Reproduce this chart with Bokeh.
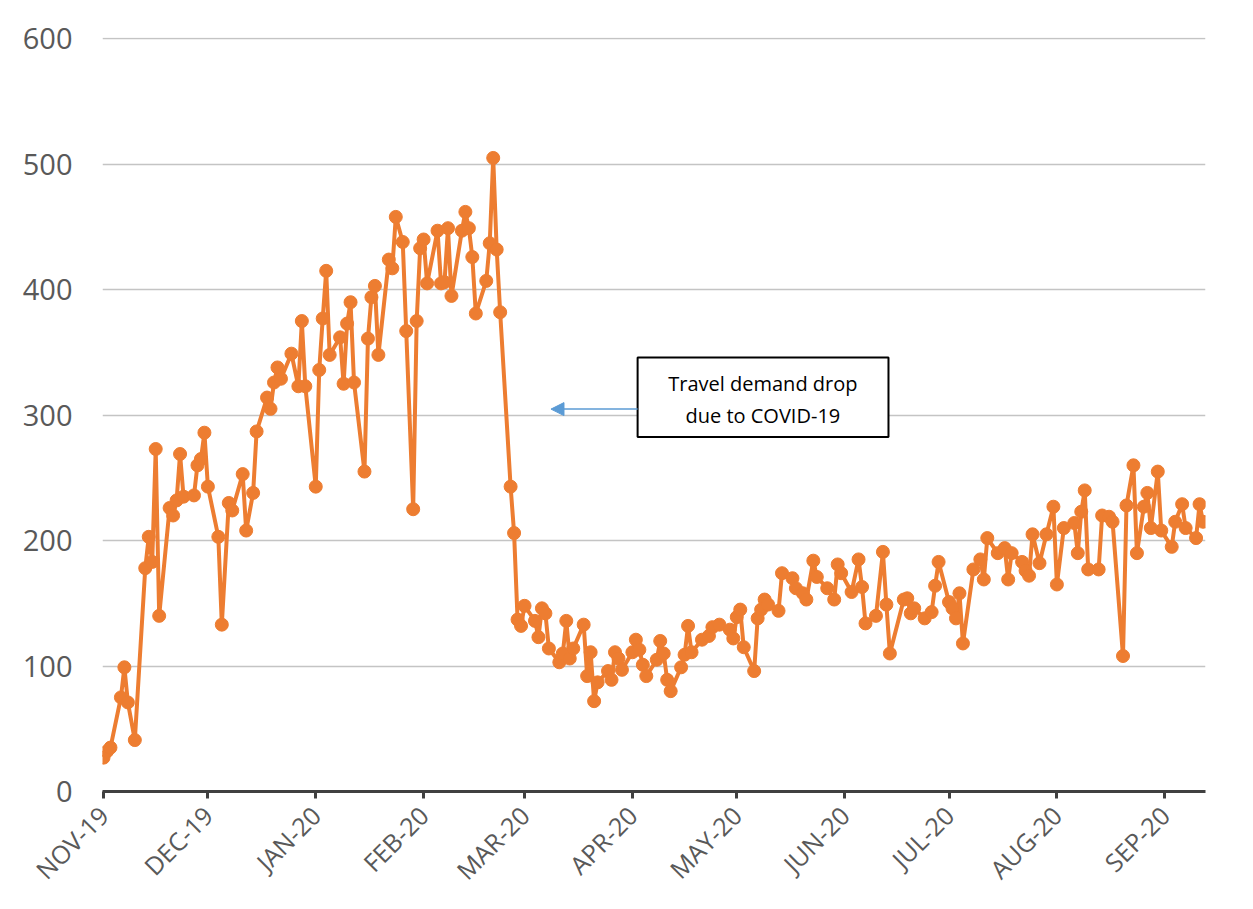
import pandas as pd
from math import pi
from bokeh.plotting import figure
from bokeh.models import (ColumnDataSource, FixedTicker, Range1d, BoxAnnotation,
                          Label, Arrow, NormalHead)
from bokeh.embed import file_html
from bokeh.resources import INLINE

start_date = "2019-11-01"

day_offsets = [
    0, 1, 2, 5, 6, 7, 9, 12, 13, 14, 15, 16, 19, 20, 21, 22, 23, 26, 27, 28, 29,
    30, 33, 34, 36, 37, 40, 41, 43, 44, 47, 48, 49, 50, 51, 54, 56, 57, 58,
    61, 62, 63, 64, 65, 68, 69, 70, 71, 72, 75, 76, 77, 78, 79, 82, 83, 84, 86, 87, 89, 90, 91,
    92, 93, 96, 97, 98, 99, 100, 103, 104, 105, 106, 107, 110, 111, 112, 113, 114, 117, 118, 119, 120,
    121, 124, 125, 126, 127, 128, 131, 132, 133, 134, 135, 138, 139, 140, 141, 142, 145, 146, 147, 148, 149,
    152, 153, 154, 155, 156, 159, 160, 161, 162, 163, 166, 167, 168, 169, 172, 174, 175, 177, 180, 181,
    182, 183, 184, 187, 188, 189, 190, 191, 194, 195, 198, 199, 201, 202, 204, 205, 208, 210, 211, 212,
    215, 217, 218, 219, 222, 224, 225, 226, 230, 231, 232, 233, 236, 238, 239, 240,
    243, 244, 245, 246, 247, 250, 252, 253, 254, 257, 259, 260, 261, 264, 265, 266, 267, 269, 271, 273,
    274, 276, 279, 280, 281, 282, 283, 286, 287, 289, 290, 293, 294, 296, 297, 299, 300, 301, 303, 304,
    307, 308, 310, 311, 314, 315, 316,
]

values = [
    27, 32, 35, 75, 99, 71, 41, 178, 203, 183, 273, 140, 226, 220, 232, 269, 235, 236, 260, 265, 286,
    243, 203, 133, 230, 224, 253, 208, 238, 287, 314, 305, 326, 338, 329, 349, 323, 375, 323,
    243, 336, 377, 415, 348, 362, 325, 373, 390, 326, 255, 361, 394, 403, 348, 424, 417, 458, 438, 367, 225, 375, 433,
    440, 405, 447, 405, 406, 449, 395, 447, 462, 449, 426, 381, 407, 437, 505, 432, 382, 243, 206, 137, 132,
    148, 136, 123, 146, 142, 114, 103, 110, 136, 106, 114, 133, 92, 111, 72, 87, 96, 89, 111, 106, 97,
    111, 121, 113, 101, 92, 105, 120, 110, 89, 80, 99, 109, 132, 111, 121, 124, 131, 133, 129, 122,
    139, 145, 115, 96, 138, 145, 153, 149, 144, 174, 170, 162, 158, 153, 184, 171, 162, 153, 181, 174,
    159, 185, 163, 134, 140, 191, 149, 110, 153, 154, 142, 146, 138, 143, 164, 183,
    151, 146, 138, 158, 118, 177, 185, 169, 202, 190, 194, 169, 190, 183, 176, 172, 205, 182, 205, 227,
    165, 210, 214, 190, 223, 240, 177, 177, 220, 219, 215, 108, 228, 260, 190, 227, 238, 210, 255, 208,
    195, 215, 229, 210, 202, 229, 215,
]

month_ticks = ["2019-11-01", "2019-12-01", "2020-01-01", "2020-02-01", "2020-03-01", "2020-04-01",
               "2020-05-01", "2020-06-01", "2020-07-01", "2020-08-01", "2020-09-01"]
month_labels = ["NOV-19", "DEC-19", "JAN-20", "FEB-20", "MAR-20", "APR-20",
                "MAY-20", "JUN-20", "JUL-20", "AUG-20", "SEP-20"]

y_ticks = [0, 100, 200, 300, 400, 500, 600]

annotation_lines = ["Travel demand drop", "due to COVID-19"]

ORANGE = "#ED7D31"
TEXT = "#595959"
FONT = "Open Sans"

start = pd.Timestamp(start_date)
dates = start + pd.to_timedelta(day_offsets, unit="D")
src = ColumnDataSource(dict(date=dates, value=values))


def ms(ts):
    return int(pd.Timestamp(ts).value // 10**6)


def day_ms(d):
    return ms(start + pd.Timedelta(days=d))


x_start = day_ms(-0.29)
x_end = day_ms(day_offsets[-1] + 0.71)

p = figure(width=1245, height=901, x_axis_type="datetime",
           x_range=Range1d(x_start, x_end), y_range=Range1d(0, 601),
           output_backend="svg", toolbar_location=None,
           min_border_left=102, min_border_right=40, min_border_top=37, min_border_bottom=109)

p.outline_line_color = None
p.background_fill_color = "white"
p.border_fill_color = "white"

# grid
p.xgrid.grid_line_color = None
p.ygrid.ticker = FixedTicker(ticks=y_ticks)
p.ygrid.grid_line_color = "#c4c4c4"
p.ygrid.grid_line_width = 1.5

# y axis
p.yaxis.ticker = FixedTicker(ticks=y_ticks)
p.yaxis.axis_line_color = None
p.yaxis.major_tick_line_color = None
p.yaxis.minor_tick_line_color = None
p.yaxis.major_tick_out = 0
p.yaxis.major_tick_in = 0
p.yaxis.major_label_standoff = 30
p.yaxis.major_label_text_font = FONT
p.yaxis.major_label_text_font_size = "29px"
p.yaxis.major_label_text_color = TEXT

# x axis
tick_ms = [ms(t) for t in month_ticks]
p.xaxis.ticker = FixedTicker(ticks=tick_ms)
p.xaxis.major_label_overrides = {t: lab for t, lab in zip(tick_ms, month_labels)}
p.xaxis.axis_line_color = "#404040"
p.xaxis.axis_line_width = 3
p.xaxis.major_tick_line_color = "#404040"
p.xaxis.major_tick_line_width = 3
p.xaxis.major_tick_out = 7
p.xaxis.major_tick_in = 0
p.xaxis.minor_tick_line_color = None
p.xaxis.major_label_orientation = pi / 4
p.xaxis.major_label_standoff = 12
p.xaxis.major_label_text_font = FONT
p.xaxis.major_label_text_font_size = "25px"
p.xaxis.major_label_text_color = TEXT

# series
p.line("date", "value", source=src, line_color=ORANGE, line_width=4)
p.scatter("date", "value", source=src, marker="circle", size=13,
          fill_color=ORANGE, line_color=ORANGE)

# annotation
box = BoxAnnotation(left=day_ms(153.5), right=day_ms(225.6), bottom=282.5, top=346,
                    fill_color="white", fill_alpha=1.0, line_color="black", line_width=2,
                    line_alpha=1.0)
p.add_layout(box)

p.add_layout(Arrow(end=NormalHead(size=13, fill_color="#5B9BD5", line_color="#5B9BD5"),
                   x_start=day_ms(153.5), y_start=304.8, x_end=day_ms(128.6), y_end=304.8,
                   line_color="#5B9BD5", line_width=1.5))

for txt, yv in zip(annotation_lines, [325.5, 300]):
    p.add_layout(Label(x=day_ms(189.5), y=yv, text=txt, text_align="center",
                       text_baseline="middle", text_font=FONT, text_font_size="20px",
                       text_color="black"))

open("out.html", "w").write(file_html(p, INLINE))
